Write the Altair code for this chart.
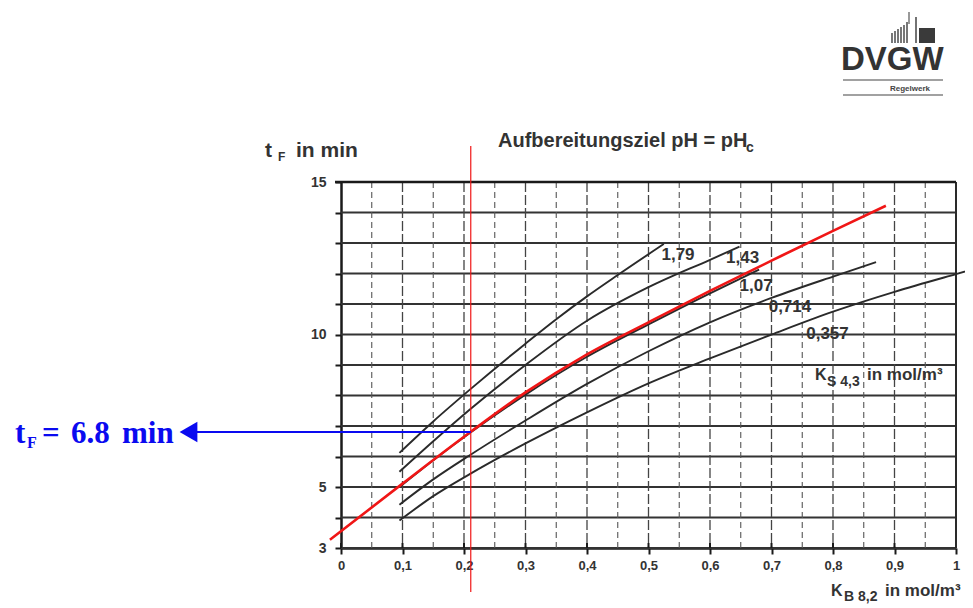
import altair as alt
import pandas as pd

# ---------------- data ----------------
x_ticks = [0.0, 0.1, 0.2, 0.3, 0.4, 0.5, 0.6, 0.7, 0.8, 0.9, 1.0]
x_minor = [0.05, 0.15, 0.25, 0.35, 0.45, 0.55, 0.65, 0.75, 0.85, 0.95]
y_ticks = [3, 4, 5, 6, 7, 8, 9, 10, 11, 12, 13, 14, 15]
y_labelled = [3, 5, 10, 15]

curve_names = ["1,79", "1,43", "1,07", "0,714", "0,357"]
x_179 = [0.095, 0.15, 0.21, 0.30, 0.35, 0.40, 0.45, 0.525]
y_179 = [6.12, 7.15, 8.20, 9.70, 10.50, 11.25, 11.95, 12.97]
x_143 = [0.095, 0.15, 0.21, 0.30, 0.40, 0.50, 0.60, 0.648]
y_143 = [5.50, 6.50, 7.55, 9.00, 10.45, 11.55, 12.45, 12.88]
x_107 = [0.095, 0.15, 0.21, 0.30, 0.40, 0.50, 0.60, 0.68]
y_107 = [5.00, 5.88, 6.78, 8.03, 9.27, 10.33, 11.35, 12.13]
x_0714 = [0.095, 0.15, 0.21, 0.30, 0.40, 0.50, 0.60, 0.70, 0.80, 0.87]
y_0714 = [4.42, 5.25, 6.05, 7.18, 8.38, 9.45, 10.40, 11.20, 11.90, 12.37]
x_0357 = [0.095, 0.15, 0.21, 0.30, 0.40, 0.50, 0.60, 0.70, 0.80, 0.90, 1.0, 1.03]
y_0357 = [3.90, 4.70, 5.43, 6.43, 7.45, 8.40, 9.22, 10.00, 10.75, 11.40, 11.98, 12.15]

red_x = [-0.018, 0.10, 0.211, 0.30, 0.40, 0.50, 0.60, 0.70, 0.80, 0.886]
red_y = [3.27, 5.11, 6.81, 8.10, 9.35, 10.40, 11.43, 12.42, 13.40, 14.22]

kb_read = 0.211      # K_B8,2 read-off position (red vertical)
tf_read = 6.8        # resulting t_F (blue arrow)
arrow_end = -0.237   # where the blue shaft ends (left of the axis)
arrow_head = -0.248

label_x = [0.548, 0.653, 0.675, 0.730, 0.791]
label_y = [12.60, 12.50, 11.60, 10.90, 10.02]

# ---------------- build tables ----------------
curve_x = [x_179, x_143, x_107, x_0714, x_0357]
curve_y = [y_179, y_143, y_107, y_0714, y_0357]
rows = []
for name, xs_, ys_ in zip(curve_names, curve_x, curve_y):
    for i, (a, b) in enumerate(zip(xs_, ys_)):
        rows.append({"series": name, "x": a, "y": b, "o": i})
curves_df = pd.DataFrame(rows)
red_df = pd.DataFrame({"x": red_x, "y": red_y, "o": range(len(red_x))})
labels_df = pd.DataFrame({"x": label_x, "y": label_y, "t": curve_names})
hgrid_df = pd.DataFrame({"y": y_ticks})
xt_df = pd.DataFrame({"x": x_ticks})
vmaj_df = pd.DataFrame({"x": x_ticks[1:-1]})
vmin_df = pd.DataFrame({"x": x_minor})
border_df = pd.DataFrame({"x": [x_ticks[-1]]})
kb_df = pd.DataFrame({"x": [kb_read]})
arrow_df = pd.DataFrame({"x": [kb_read], "x2": [arrow_end], "y": [tf_read]})
head_df = pd.DataFrame({"x": [arrow_head], "y": [tf_read]})
one = pd.DataFrame({"a": [0]})

# ---------------- style ----------------
W, H = 615, 366
INK = "#2a2a2a"
TXT = "#333333"
SANS = "Liberation Sans"
SERIF = "Liberation Serif"
BLUE = "#0a0af0"
RED = "#f01616"

xs = alt.Scale(domain=[0, 1], nice=False, zero=False)
ys = alt.Scale(domain=[3, 15], nice=False, zero=False)

x_axis = alt.Axis(values=x_ticks, format=".1~f",
                  labelExpr="replace(datum.label, '.', ',')",
                  title=None, grid=False, domainColor="#1a1a1a", domainWidth=2.5,
                  tickColor="#1a1a1a", tickWidth=2, tickSize=6, labelFontSize=13,
                  labelFontWeight="bold", labelColor=TXT, labelFont=SANS,
                  labelPadding=5, labelFlush=False)
y_axis = alt.Axis(values=y_ticks,
                  labelExpr=f"indexof({y_labelled}, datum.value) >= 0 ? datum.label : ''",
                  title=None, grid=False, domainColor="#1a1a1a", domainWidth=2.5,
                  tickColor="#1a1a1a", tickWidth=2, tickSize=6, labelFontSize=14,
                  labelFontWeight="bold", labelColor=TXT, labelFont=SANS,
                  labelPadding=9, labelFlush=False)


def X(f="x"):
    return alt.X(f"{f}:Q", scale=xs, axis=x_axis)


def Y(f="y"):
    return alt.Y(f"{f}:Q", scale=ys, axis=y_axis)


hgrid = alt.Chart(hgrid_df).mark_rule(color="#333333", strokeWidth=1.8).encode(
    y=Y(), x=alt.value(0), x2=alt.value(W))
vmaj = alt.Chart(vmaj_df).mark_rule(color="#444444", strokeWidth=1.3,
                                    strokeDash=[10, 3]).encode(
    x=X(), y=alt.value(0), y2=alt.value(H))
vmin = alt.Chart(vmin_df).mark_rule(color="#555555", strokeWidth=1.1,
                                    strokeDash=[6, 4]).encode(
    x=X(), y=alt.value(0), y2=alt.value(H))
xticks_up = alt.Chart(xt_df).mark_rule(color="#1a1a1a", strokeWidth=2).encode(
    x=X(), y=alt.value(H - 5), y2=alt.value(H))
border_r = alt.Chart(border_df).mark_rule(color="#2a2a2a", strokeWidth=2).encode(
    x=X(), y=alt.value(0), y2=alt.value(H))
border_t = alt.Chart(one).mark_rule(color="#1a1a1a", strokeWidth=2.4).encode(
    y=alt.value(0), x=alt.value(-6), x2=alt.value(W))

lines = alt.Chart(curves_df).mark_line(strokeWidth=1.9, interpolate="monotone",
                                       clip=False).encode(
    x=X(), y=Y(), detail="series:N", order="o:Q",
    color=alt.Color("series:N", scale=alt.Scale(domain=curve_names,
                                                range=[INK] * 5), legend=None))

clabels = alt.Chart(labels_df).mark_text(fontSize=17, fontWeight="bold", font=SANS,
                                         color=TXT).encode(x=X(), y=Y(), text="t:N")

red_curve = alt.Chart(red_df).mark_line(color=RED, strokeWidth=2.6,
                                        interpolate="monotone", clip=False).encode(
    x=X(), y=Y(), order="o:Q")
red_v = alt.Chart(kb_df).mark_rule(color=RED, strokeWidth=1.2, clip=False).encode(
    x=X(), y=alt.value(-36), y2=alt.value(410))

blue_line = alt.Chart(arrow_df).mark_rule(color=BLUE, strokeWidth=2, clip=False).encode(
    x=X(), x2="x2:Q", y=Y())
blue_head = alt.Chart(head_df).mark_point(shape="triangle-left", filled=True, size=420,
                                          color=BLUE, opacity=1, clip=False).encode(
    x=X(), y=Y())


def txt(s, px, py, size, weight="bold", color=TXT, font=SANS, align="left"):
    return alt.Chart(one).mark_text(text=s, x=px, y=py, fontSize=size, fontWeight=weight,
                                    color=color, font=font, align=align,
                                    baseline="alphabetic")


texts = [
    txt("Aufbereitungsziel pH = pH", 157, -35, 20),
    txt("c", 405, -30, 14),
    txt("t", -76, -25, 21),
    txt("F", -63, -21, 12),
    txt("in min", -45, -25, 21),
    txt("K", 474, 198, 16),
    txt("S 4,3", 486, 204, 14),
    txt("in mol/m³", 526, 198, 17),
    txt("K", 490, 414, 16),
    txt("B 8,2", 503, 419, 14),
    txt("in mol/m³", 544, 414, 17),
    # blue result annotation
    txt("t", -326, 261, 31, color=BLUE, font=SERIF),
    txt("F", -314, 266, 16, color=BLUE, font=SERIF),
    txt("=", -299, 261, 31, color=BLUE, font=SERIF),
    txt("6.8", -270, 261, 31, color=BLUE, font=SERIF),
    txt("min", -219, 261, 31, color=BLUE, font=SERIF),
    # DVGW logo text
    txt("DVGW", 500, -112, 33, color="#333333"),
    txt("Regelwerk", 549, -91, 8, color="#444444"),
]

logo = []
for lx, ly in [(551, -149), (554, -151), (557, -153), (560, -155), (563, -157), (566, -160)]:
    logo.append(alt.Chart(one).mark_rule(color="#555555", strokeWidth=1.6).encode(
        x=alt.value(lx), y=alt.value(ly), y2=alt.value(-139)))
logo.append(alt.Chart(one).mark_rule(color="#555555", strokeWidth=1.2).encode(
    x=alt.value(568), y=alt.value(-170), y2=alt.value(-158)))
logo.append(alt.Chart(one).mark_rule(color="#444444", strokeWidth=1.5).encode(
    x=alt.value(575), y=alt.value(-165), y2=alt.value(-139)))
logo.append(alt.Chart(one).mark_rect(color="#3a3a3a").encode(
    x=alt.value(578), x2=alt.value(594), y=alt.value(-154), y2=alt.value(-139)))
logo.append(alt.Chart(one).mark_rule(color="#444444", strokeWidth=1.2).encode(
    x=alt.value(502), x2=alt.value(602), y=alt.value(-102)))
logo.append(alt.Chart(one).mark_rule(color="#444444", strokeWidth=1.2).encode(
    x=alt.value(502), x2=alt.value(602), y=alt.value(-87)))

chart = alt.layer(
    hgrid, vmin, vmaj, xticks_up, border_r, border_t, lines, clabels, red_curve, red_v,
    blue_line, blue_head, *texts, *logo
).properties(
    width=W, height=H,
    autosize=alt.AutoSizeParams(type="none"),
    padding={"left": 333, "top": 174, "right": 9, "bottom": 56},
    background="white",
).configure_view(stroke=None)

chart.save("out.html", embed_options={"renderer": "svg", "actions": False})
